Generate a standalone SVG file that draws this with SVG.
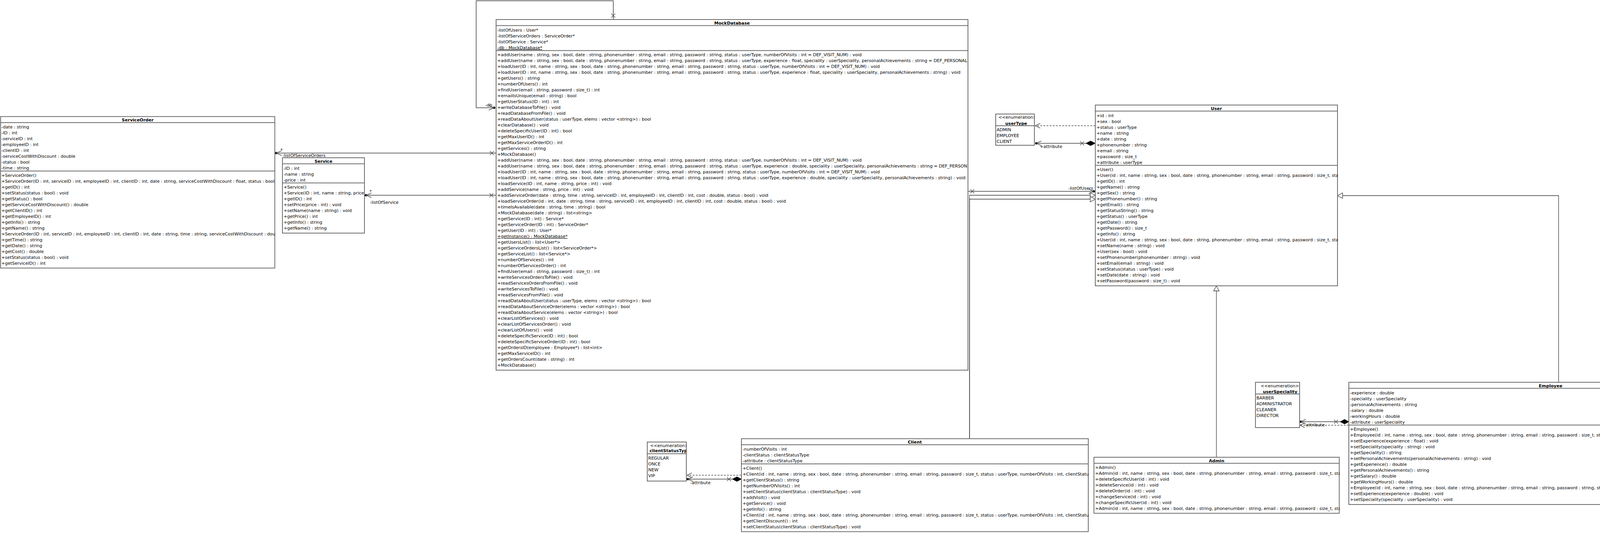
<svg xmlns="http://www.w3.org/2000/svg" width="4489" height="1365" viewBox="0 0 4489 1365">
<style>
.bg{fill:#fff}
.box{fill:#fff;stroke:#6b6b6b;stroke-width:2}
.sep{stroke:#6b6b6b;stroke-width:2}
text{font-family:"DejaVu Sans","Liberation Sans",sans-serif;font-size:11px;fill:#000}
.h{font-weight:bold;text-anchor:middle}
.m{text-anchor:middle}
.u{text-decoration:underline}
.ln{stroke:#6b6b6b;stroke-width:2;fill:none}
.gen{stroke:#333;stroke-width:1.3;fill:none}
.tri{fill:#fff;stroke:#333;stroke-width:1.3}
.dash{stroke:#7a7a7a;stroke-width:2;stroke-dasharray:5 3;fill:none}
.arr{stroke:#555;stroke-width:1.5;fill:none}
.dot{fill:#000}
.dia{fill:#000;stroke:#000;stroke-width:1}
.x{stroke:#555;stroke-width:1.5}
</style>
<defs>
<clipPath id="c-so"><rect x="2.5" y="299.5" width="702" height="386"/></clipPath>
<clipPath id="c-svc"><rect x="724" y="405" width="210" height="191"/></clipPath>
<clipPath id="c-md"><rect x="1271" y="51" width="1210" height="896"/></clipPath>
<clipPath id="c-user"><rect x="2805" y="270" width="620" height="461"/></clipPath>
<clipPath id="c-emp"><rect x="3454" y="980" width="1033" height="311"/></clipPath>
<clipPath id="c-adm"><rect x="2801.5" y="1172" width="628" height="141.5"/></clipPath>
<clipPath id="c-cli"><rect x="1899" y="1124.5" width="888" height="236"/></clipPath>
<clipPath id="c-ut"><rect x="2550" y="293" width="98" height="78"/></clipPath>
<clipPath id="c-cst"><rect x="1658" y="1133" width="99" height="98"/></clipPath>
<clipPath id="c-us"><rect x="3215" y="980" width="112" height="114"/></clipPath>
</defs>
<rect class="bg" x="0" y="0" width="4489" height="1365"/>

<g id="connectors">
  <!-- ServiceOrder - MockDatabase -->
  <line class="ln" x1="707" y1="392" x2="1270" y2="392"/>
  <circle class="dot" cx="707" cy="392" r="3"/>
  <polyline class="arr" points="721,386 707,392 721,398"/>
  <line class="x" x1="1254" y1="387" x2="1264" y2="397"/><line class="x" x1="1254" y1="397" x2="1264" y2="387"/>
  <text x="718" y="388">*</text>
  <text x="723" y="402">-listOfServiceOrders</text>
  <!-- Service - MockDatabase -->
  <line class="ln" x1="937" y1="500" x2="1270" y2="500"/>
  <circle class="dot" cx="937" cy="500" r="3"/>
  <polyline class="arr" points="951,494 937,500 951,506"/>
  <line class="x" x1="1253" y1="495" x2="1263" y2="505"/><line class="x" x1="1253" y1="505" x2="1263" y2="495"/>
  <text x="946" y="494">*</text>
  <text x="947" y="521.5">-listOfService</text>
  <!-- MockDatabase self (db) -->
  <polyline class="ln" points="1264,276 1219,276 1219,2 1570,2 1570,50"/>
  <circle class="dot" cx="1265" cy="276" r="3"/>
  <polyline class="arr" points="1251,270 1265,276 1251,282"/>
  <line class="x" x1="1565" y1="35" x2="1575" y2="45"/><line class="x" x1="1565" y1="45" x2="1575" y2="35"/>
  <text x="1242" y="272.5">-db</text>
  <!-- MockDatabase - User (listOfUsers) -->
  <line class="ln" x1="2478" y1="490" x2="2800" y2="490"/>
  <line class="x" x1="2484" y1="485" x2="2494" y2="495"/><line class="x" x1="2484" y1="495" x2="2494" y2="485"/>
  <circle class="dot" cx="2800" cy="490" r="3"/>
  <polyline class="arr" points="2787,484 2800,490 2787,496"/>
  <text x="2735" y="486">-listOfUsers</text>
  <!-- Client generalization -->
  <polyline class="gen" points="2482,1123.5 2482,500 2791,500"/>
  <polyline class="gen" points="2482,1123.5 2482,510 2791,510"/>
  <polygon class="tri" points="2791,493 2804,500 2791,507"/>
  <polygon class="tri" points="2791,503 2804,510 2791,517"/>
  <!-- Admin generalization -->
  <line class="gen" x1="3114" y1="1171" x2="3114" y2="745"/>
  <polygon class="tri" points="3107,745 3114,732 3121,745"/>
  <!-- Employee generalization -->
  <polyline class="gen" points="3990,979 3990,501 3437,501"/>
  <polygon class="tri" points="3437,494 3424,501 3437,508"/>
  <!-- User - userType -->
  <line class="dash" x1="2804" y1="322" x2="2650" y2="322"/>
  <polyline class="arr" points="2663,316 2650,322 2663,328"/>
  <line class="ln" x1="2653" y1="367" x2="2780" y2="367"/>
  <polygon class="dia" points="2780,367 2792,361 2804,367 2792,373"/>
  <line class="x" x1="2765" y1="362" x2="2775" y2="372"/><line class="x" x1="2765" y1="372" x2="2775" y2="362"/>
  <circle class="dot" cx="2653" cy="367" r="3"/>
  <polyline class="arr" points="2666,361 2653,367 2666,373"/>
  <text x="2662" y="379">+attribute</text>
  <!-- Client - clientStatusType -->
  <line class="dash" x1="1898" y1="1217" x2="1759" y2="1217"/>
  <polyline class="arr" points="1771,1211 1759,1217 1771,1223"/>
  <line class="ln" x1="1761" y1="1227" x2="1875" y2="1227"/>
  <polygon class="dia" points="1875,1227 1886.5,1221 1898,1227 1886.5,1233"/>
  <line class="x" x1="1861" y1="1222" x2="1871" y2="1232"/><line class="x" x1="1861" y1="1232" x2="1871" y2="1222"/>
  <circle class="dot" cx="1761" cy="1227" r="3"/>
  <polyline class="arr" points="1774,1221 1761,1227 1774,1233"/>
  <text x="1767" y="1240">-attribute</text>
  <!-- Employee - userSpeciality -->
  <line class="ln" x1="3330" y1="1080" x2="3431" y2="1080"/>
  <polygon class="dia" points="3431,1080 3442,1074 3453,1080 3442,1086"/>
  <line class="x" x1="3415" y1="1075" x2="3425" y2="1085"/><line class="x" x1="3415" y1="1085" x2="3425" y2="1075"/>
  <circle class="dot" cx="3330" cy="1080" r="3"/>
  <polyline class="arr" points="3343,1074 3330,1080 3343,1086"/>
  <line class="dash" x1="3453" y1="1089" x2="3328" y2="1089"/>
  <polyline class="arr" points="3340,1083 3328,1089 3340,1095"/>
  <text x="3339" y="1092">-attribute</text>
</g>

<g id="ServiceOrder">
  <rect class="box" x="1.5" y="298.5" width="702" height="388"/>
  <text class="h" x="352.5" y="311">ServiceOrder</text>
  <line class="sep" x1="1.5" y1="314" x2="703.5" y2="314"/>
  <line class="sep" x1="1.5" y1="438" x2="703.5" y2="438"/>
  <g clip-path="url(#c-so)">
    <text x="3.5" y="329">-date : string</text>
    <text x="3.5" y="344">-ID : int</text>
    <text x="3.5" y="359">-serviceID : int</text>
    <text x="3.5" y="374">-employeeID : int</text>
    <text x="3.5" y="389">-clientID : int</text>
    <text x="3.5" y="404">-serviceCostWithDiscount : double</text>
    <text x="3.5" y="419">-status : bool</text>
    <text x="3.5" y="434">-time : string</text>
    <text x="3.5" y="452.5">+ServiceOrder()</text>
    <text x="3.5" y="467.5" textLength="699" lengthAdjust="spacingAndGlyphs">+ServiceOrder(ID : int, serviceID : int, employeeID : int, clientID : int, date : string, serviceCostWithDiscount : float, status : bool</text>
    <text x="3.5" y="482.5">+getID() : int</text>
    <text x="3.5" y="497.5">+setStatus(status : bool) : void</text>
    <text x="3.5" y="512.5">+getStatus() : bool</text>
    <text x="3.5" y="527.5">+getServiceCostWithDiscount() : double</text>
    <text x="3.5" y="542.5">+getClientID() : int</text>
    <text x="3.5" y="557.5">+getEmployeeID() : int</text>
    <text x="3.5" y="572.5">+getInfo() : string</text>
    <text x="3.5" y="587.5">+getName() : string</text>
    <text x="3.5" y="602.5">+ServiceOrder(ID : int, serviceID : int, employeeID : int, clientID : int, date : string, time : string, serviceCostWithDiscount : doub</text>
    <text x="3.5" y="617.5">+getTime() : string</text>
    <text x="3.5" y="632.5">+getDate() : string</text>
    <text x="3.5" y="647.5">+getCost() : double</text>
    <text x="3.5" y="662.5">+setStatus(status : bool) : void</text>
    <text x="3.5" y="677.5">+getServiceID() : int</text>
  </g>
</g>

<g id="Service">
  <rect class="box" x="723" y="404" width="210" height="193"/>
  <text class="h" x="828" y="416.5">Service</text>
  <line class="sep" x1="723" y1="419.5" x2="933" y2="419.5"/>
  <line class="sep" x1="723" y1="468.5" x2="933" y2="468.5"/>
  <g clip-path="url(#c-svc)">
    <text x="726" y="434.5">-ID : int</text>
    <text x="726" y="449.5">-name : string</text>
    <text x="726" y="464.5">-price : int</text>
    <text x="726" y="483">+Service()</text>
    <text x="726" y="498">+Service(ID : int, name : string, price</text>
    <text x="726" y="513">+getID() : int</text>
    <text x="726" y="528">+setPrice(price : int) : void</text>
    <text x="726" y="543">+setName(name : string) : void</text>
    <text x="726" y="558">+getPrice() : int</text>
    <text x="726" y="573">+getInfo() : string</text>
    <text x="726" y="588">+getName() : string</text>
  </g>
</g>

<g id="MockDatabase">
  <rect class="box" x="1270" y="50" width="1208" height="898"/>
  <text class="h" x="1874" y="62.5">MockDatabase</text>
  <line class="sep" x1="1270" y1="65.5" x2="2478" y2="65.5"/>
  <line class="sep" x1="1270" y1="129.5" x2="2478" y2="129.5"/>
  <g clip-path="url(#c-md)">
    <text x="1273" y="80.5">-listOfUsers : User*</text>
    <text x="1273" y="95.5">-listOfServiceOrders : ServiceOrder*</text>
    <text x="1273" y="110.5">-listOfService : Service*</text>
    <text class="u" x="1273" y="125.5">-db : MockDatabase*</text>
    <text x="1273" y="144">+addUser(name : string, sex : bool, date : string, phonenumber : string, email : string, password : string, status : userType, numberOfVisits : int = DEF_VISIT_NUM) : void</text>
    <text x="1273" y="159" textLength="1203" lengthAdjust="spacingAndGlyphs">+addUser(name : string, sex : bool, date : string, phonenumber : string, email : string, password : string, status : userType, experience : float, speciality : userSpeciality, personalAchievements : string = DEF_PERSONAL</text>
    <text x="1273" y="174">+loadUser(ID : int, name : string, sex : bool, date : string, phonenumber : string, email : string, password : string, status : userType, numberOfVisits : int = DEF_VISIT_NUM) : void</text>
    <text x="1273" y="189">+loadUser(ID : int, name : string, sex : bool, date : string, phonenumber : string, email : string, password : string, status : userType, experience : float, speciality : userSpeciality, personalAchievements : string) : void</text>
    <text x="1273" y="204">+getUsers() : string</text>
    <text x="1273" y="219">+numberOfUsers() : int</text>
    <text x="1273" y="234">+findUser(email : string, password : size_t) : int</text>
    <text x="1273" y="249">+emailIsUnique(email : string) : bool</text>
    <text x="1273" y="264">+getUserStatus(ID : int) : int</text>
    <text x="1273" y="279">+writeDatabaseToFile() : void</text>
    <text x="1273" y="294">+readDatabaseFromFile() : void</text>
    <text x="1273" y="309">+readDataAboutUser(status : userType, elems : vector &lt;string&gt;) : bool</text>
    <text x="1273" y="324">+clearDatabase() : void</text>
    <text x="1273" y="339">+deleteSpecificUser(ID : int) : bool</text>
    <text x="1273" y="354">+getMaxUserID() : int</text>
    <text x="1273" y="369">+getMaxServiceOrderID() : int</text>
    <text x="1273" y="384">+getServices() : string</text>
    <text x="1273" y="399">+MockDatabase()</text>
    <text x="1273" y="414">+addUser(name : string, sex : bool, date : string, phonenumber : string, email : string, password : string, status : userType, numberOfVisits : int = DEF_VISIT_NUM) : void</text>
    <text x="1273" y="429" textLength="1203" lengthAdjust="spacingAndGlyphs">+addUser(name : string, sex : bool, date : string, phonenumber : string, email : string, password : string, status : userType, experience : double, speciality : userSpeciality, personalAchievements : string = DEF_PERSON</text>
    <text x="1273" y="444">+loadUser(ID : int, name : string, sex : bool, date : string, phonenumber : string, email : string, password : string, status : userType, numberOfVisits : int = DEF_VISIT_NUM) : void</text>
    <text x="1273" y="459">+loadUser(ID : int, name : string, sex : bool, date : string, phonenumber : string, email : string, password : string, status : userType, experience : double, speciality : userSpeciality, personalAchievements : string) : void</text>
    <text x="1273" y="474">+loadService(ID : int, name : string, price : int) : void</text>
    <text x="1273" y="489">+addService(name : string, price : int) : void</text>
    <text x="1273" y="504">+addServiceOrder(date : string, time : string, serviceID : int, employeeID : int, clientID : int, cost : double, status : bool) : void</text>
    <text x="1273" y="519">+loadServiceOrder(id : int, date : string, time : string, serviceID : int, employeeID : int, clientID : int, cost : double, status : bool) : void</text>
    <text x="1273" y="534">+timeIsAvailable(date : string, time : string) : bool</text>
    <text x="1273" y="549">+MockDatabase(date : string) : list&lt;string&gt;</text>
    <text x="1273" y="564">+getService(ID : int) : Service*</text>
    <text x="1273" y="579">+getServiceOrder(ID : int) : ServiceOrder*</text>
    <text x="1273" y="594">+getUser(ID : int) : User*</text>
    <text class="u" x="1273" y="609">+getInstance() : MockDatabase*</text>
    <text x="1273" y="624">+getUsersList() : list&lt;User*&gt;</text>
    <text x="1273" y="639">+getServiceOrdersList() : list&lt;ServiceOrder*&gt;</text>
    <text x="1273" y="654">+getServiceList() : list&lt;Service*&gt;</text>
    <text x="1273" y="669">+numberOfServices() : int</text>
    <text x="1273" y="684">+numberOfServicesOrder() : int</text>
    <text x="1273" y="699">+findUser(email : string, password : size_t) : int</text>
    <text x="1273" y="714">+writeServicesOrdersToFile() : void</text>
    <text x="1273" y="729">+readServicesOrdersFromFile() : void</text>
    <text x="1273" y="744">+writeServicesToFile() : void</text>
    <text x="1273" y="759">+readServicesFromFile() : void</text>
    <text x="1273" y="774">+readDataAboutUser(status : userType, elems : vector &lt;string&gt;) : bool</text>
    <text x="1273" y="789">+readDataAboutServiceOrder(elems : vector &lt;string&gt;) : bool</text>
    <text x="1273" y="804">+readDataAboutService(elems : vector &lt;string&gt;) : bool</text>
    <text x="1273" y="819">+clearListOfServices() : void</text>
    <text x="1273" y="834">+clearListOfServicesOrder() : void</text>
    <text x="1273" y="849">+clearListOfUsers() : void</text>
    <text x="1273" y="864">+deleteSpecificService(ID : int) : bool</text>
    <text x="1273" y="879">+deleteSpecificServiceOrder(ID : int) : bool</text>
    <text x="1273" y="894">+getOrdersID(employee : Employee*) : list&lt;int&gt;</text>
    <text x="1273" y="909">+getMaxServiceID() : int</text>
    <text x="1273" y="924">+getOrdersCount(date : string) : int</text>
    <text x="1273" y="939">+MockDatabase()</text>
  </g>
</g>

<g id="userType">
  <rect class="box" x="2549" y="292" width="99" height="80"/>
  <g clip-path="url(#c-ut)">
    <text class="m" x="2609.5" y="304">&lt;&lt;enumeration&gt;&gt;</text>
    <text class="h" x="2601.5" y="319.5">userType</text>
    <text x="2551.5" y="336">ADMIN</text>
    <text x="2551.5" y="351">EMPLOYEE</text>
    <text x="2551.5" y="366">CLIENT</text>
  </g>
  <line class="sep" x1="2549" y1="322" x2="2648" y2="322"/>
</g>

<g id="User">
  <rect class="box" x="2804" y="269" width="620" height="463"/>
  <text class="h" x="3114" y="281.5">User</text>
  <line class="sep" x1="2804" y1="284.5" x2="3424" y2="284.5"/>
  <line class="sep" x1="2804" y1="423.5" x2="3424" y2="423.5"/>
  <g clip-path="url(#c-user)">
    <text x="2807" y="299.5">+id : int</text>
    <text x="2807" y="314.5">+sex : bool</text>
    <text x="2807" y="329.5">+status : userType</text>
    <text x="2807" y="344.5">+name : string</text>
    <text x="2807" y="359.5">+date : string</text>
    <text x="2807" y="374.5">+phonenumber : string</text>
    <text x="2807" y="389.5">+email : string</text>
    <text x="2807" y="404.5">+password : size_t</text>
    <text x="2807" y="419.5">+attribute : userType</text>
    <text x="2807" y="438">+User()</text>
    <text x="2807" y="453">+User(id : int, name : string, sex : bool, date : string, phonenumber : string, email : string, password : size_t, stat</text>
    <text x="2807" y="468">+getID() : int</text>
    <text x="2807" y="483">+getName() : string</text>
    <text x="2807" y="498">+getSex() : string</text>
    <text x="2807" y="513">+getPhonenumber() : string</text>
    <text x="2807" y="528">+getEmail() : string</text>
    <text x="2807" y="543">+getStatusString() : string</text>
    <text x="2807" y="558">+getStatus() : userType</text>
    <text x="2807" y="573">+getDate() : string</text>
    <text x="2807" y="588">+getPassword() : size_t</text>
    <text x="2807" y="603">+getInfo() : string</text>
    <text x="2807" y="618">+User(id : int, name : string, sex : bool, date : string, phonenumber : string, email : string, password : size_t, stat</text>
    <text x="2807" y="633">+setName(name : string) : void</text>
    <text x="2807" y="648">+User(sex : bool) : void</text>
    <text x="2807" y="663">+setPhonenumber(phonenumber : string) : void</text>
    <text x="2807" y="678">+setEmail(email : string) : void</text>
    <text x="2807" y="693">+setStatus(status : userType) : void</text>
    <text x="2807" y="708">+setDate(date : string) : void</text>
    <text x="2807" y="723">+setPassword(password : size_t) : void</text>
  </g>
</g>

<g id="userSpeciality">
  <rect class="box" x="3214" y="979" width="113" height="116"/>
  <g clip-path="url(#c-us)">
    <text class="m" x="3281" y="991.5">&lt;&lt;enumeration&gt;&gt;</text>
    <text class="h" x="3277" y="1006.5">userSpeciality</text>
    <text x="3216.5" y="1023">BARBER</text>
    <text x="3216.5" y="1038">ADMINISTRATOR</text>
    <text x="3216.5" y="1053">CLEANER</text>
    <text x="3216.5" y="1068">DIRECTOR</text>
  </g>
  <line class="sep" x1="3214" y1="1009" x2="3327" y2="1009"/>
</g>

<g id="Employee">
  <rect class="box" x="3453" y="979" width="1033" height="313"/>
  <text class="h" x="3969.5" y="991.5">Employee</text>
  <line class="sep" x1="3453" y1="994.5" x2="4486" y2="994.5"/>
  <line class="sep" x1="3453" y1="1088.5" x2="4486" y2="1088.5"/>
  <g clip-path="url(#c-emp)">
    <text x="3456" y="1009.5">-experience : double</text>
    <text x="3456" y="1024.5">-speciality : userSpeciality</text>
    <text x="3456" y="1039.5">-personalAchievements : string</text>
    <text x="3456" y="1054.5">-salary : double</text>
    <text x="3456" y="1069.5">-workingHours : double</text>
    <text x="3456" y="1084.5">-attribute : userSpeciality</text>
    <text x="3456" y="1103">+Employee()</text>
    <text x="3456" y="1118" textLength="1026" lengthAdjust="spacingAndGlyphs">+Employee(id : int, name : string, sex : bool, date : string, phonenumber : string, email : string, password : size_t, status : userType, experience : float, speciality : userSpeciality, persona</text>
    <text x="3456" y="1133">+setExperience(experience : float) : void</text>
    <text x="3456" y="1148">+setSpeciality(speciality : string) : void</text>
    <text x="3456" y="1163">+getSpeciality() : string</text>
    <text x="3456" y="1178">+setPersonalAchievements(personalAchievements : string) : void</text>
    <text x="3456" y="1193">+getExperience() : double</text>
    <text x="3456" y="1208">+getPersonalAchievements() : string</text>
    <text x="3456" y="1223">+getSalary() : double</text>
    <text x="3456" y="1238">+getWorkingHours() : double</text>
    <text x="3456" y="1253" textLength="1026" lengthAdjust="spacingAndGlyphs">+Employee(id : int, name : string, sex : bool, date : string, phonenumber : string, email : string, password : string, status : userType, experience : double, speciality : userSpeciality, perso</text>
    <text x="3456" y="1268">+setExperience(experience : double) : void</text>
    <text x="3456" y="1283">+setSpeciality(speciality : userSpeciality) : void</text>
  </g>
</g>

<g id="Admin">
  <rect class="box" x="2800.5" y="1171" width="628" height="143.5"/>
  <text class="h" x="3114.5" y="1183.5">Admin</text>
  <line class="sep" x1="2800.5" y1="1186.5" x2="3428.5" y2="1186.5"/>
  <g clip-path="url(#c-adm)">
    <text x="2803.5" y="1200.5">+Admin()</text>
    <text x="2803.5" y="1215.5">+Admin(id : int, name : string, sex : bool, date : string, phonenumber : string, email : string, password : size_t, sta</text>
    <text x="2803.5" y="1230.5">+deleteSpecificUser(id : int) : void</text>
    <text x="2803.5" y="1245.5">+deleteService(id : int) : void</text>
    <text x="2803.5" y="1260.5">+deleteOrder(id : int) : void</text>
    <text x="2803.5" y="1275.5">+changeService(id : int) : void</text>
    <text x="2803.5" y="1290.5">+changeSpecificUser(id : int) : void</text>
    <text x="2803.5" y="1305.5">+Admin(id : int, name : string, sex : bool, date : string, phonenumber : string, email : string, password : size_t, sta</text>
  </g>
</g>

<g id="clientStatusType">
  <rect class="box" x="1657" y="1132" width="100" height="100"/>
  <g clip-path="url(#c-cst)">
    <text class="m" x="1718" y="1145">&lt;&lt;enumeration&gt;&gt;</text>
    <text x="1663" y="1157.5" font-weight="bold">clientStatusType</text>
    <text x="1659.5" y="1176.5">REGULAR</text>
    <text x="1659.5" y="1191.5">ONCE</text>
    <text x="1659.5" y="1206.5">NEW</text>
    <text x="1659.5" y="1221.5">VIP</text>
  </g>
  <line class="sep" x1="1657" y1="1162" x2="1757" y2="1162"/>
</g>

<g id="Client">
  <rect class="box" x="1898" y="1123.5" width="888" height="238"/>
  <text class="h" x="2342" y="1136">Client</text>
  <line class="sep" x1="1898" y1="1139" x2="2786" y2="1139"/>
  <line class="sep" x1="1898" y1="1188" x2="2786" y2="1188"/>
  <g clip-path="url(#c-cli)">
    <text x="1901" y="1154">-numberOfVisits : int</text>
    <text x="1901" y="1169">-clientStatus : clientStatusType</text>
    <text x="1901" y="1184">-attribute : clientStatusType</text>
    <text x="1901" y="1202.5">+Client()</text>
    <text x="1901" y="1217.5">+Client(id : int, name : string, sex : bool, date : string, phonenumber : string, email : string, password : size_t, status : userType, numberOfVisits : int, clientStatu</text>
    <text x="1901" y="1232.5">+getClientStatus() : string</text>
    <text x="1901" y="1247.5">+getNumberOfVisits() : int</text>
    <text x="1901" y="1262.5">+setClientStatus(clientStatus : clientStatusType) : void</text>
    <text x="1901" y="1277.5">+addVisit() : void</text>
    <text x="1901" y="1292.5">+getService() : void</text>
    <text x="1901" y="1307.5">+getInfo() : string</text>
    <text x="1901" y="1322.5">+Client(id : int, name : string, sex : bool, date : string, phonenumber : string, email : string, password : size_t, status : userType, numberOfVisits : int, clientStatu</text>
    <text x="1901" y="1337.5">+getClientDiscount() : int</text>
    <text x="1901" y="1352.5">+setClientStatus(clientStatus : clientStatusType) : void</text>
  </g>
</g>
</svg>
